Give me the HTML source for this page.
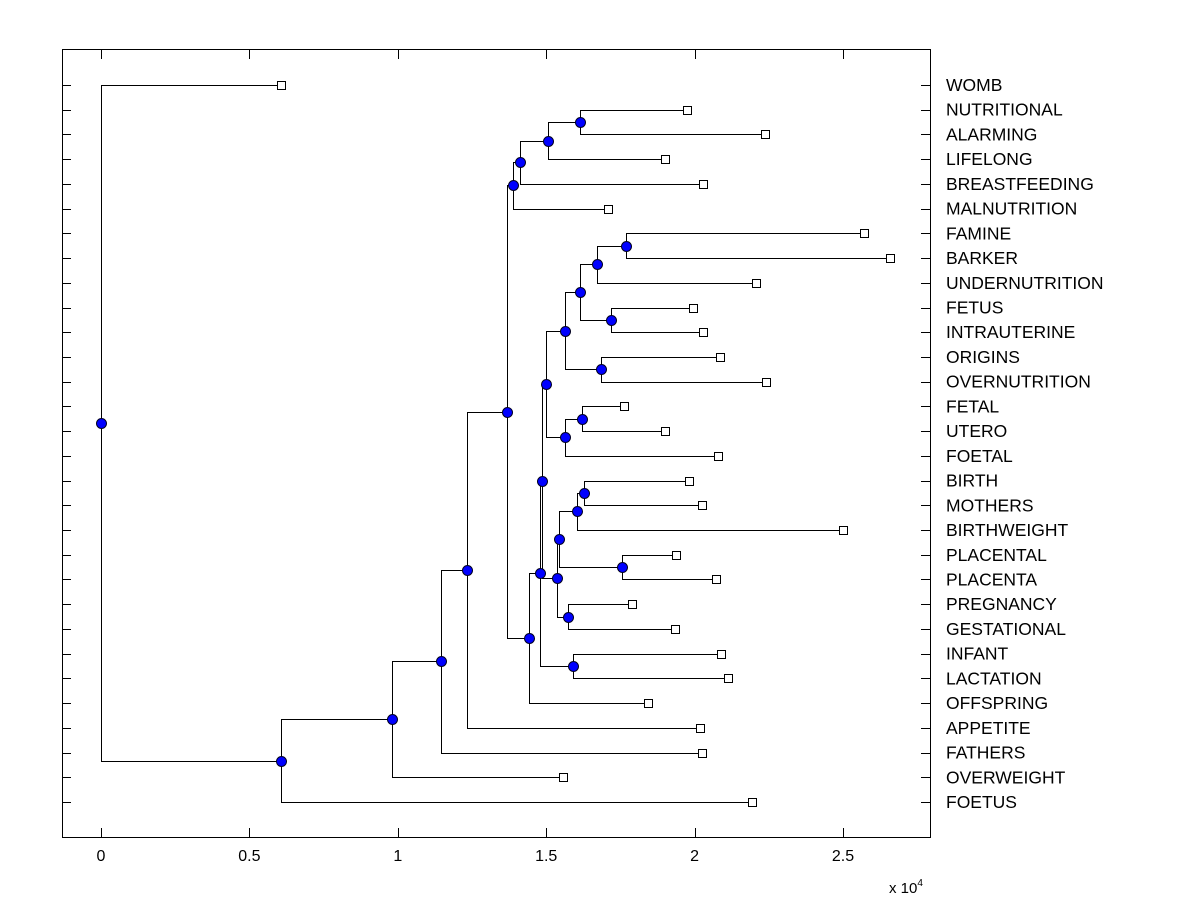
<!DOCTYPE html>
<html><head><meta charset="utf-8"><style>
html,body{margin:0;padding:0;background:#fff;}
svg{display:block;font-family:"Liberation Sans",Arial,sans-serif;}
</style></head><body>
<svg id="chart" width="1200" height="900" viewBox="0 0 1200 900" xmlns="http://www.w3.org/2000/svg">
<rect x="0" y="0" width="1200" height="900" fill="#fff"/>
<g id="ticks"></g>
<g id="links"></g>
<g id="marks"></g>
<g id="labels"></g>
<rect x="62.5" y="49.5" width="868" height="788" fill="none" stroke="#000" stroke-width="1"/>
<text x="889" y="893" font-size="15">x 10<tspan dy="-7" font-size="10">4</tspan></text>
</svg>
<script>
const leafNames = ["WOMB","NUTRITIONAL","ALARMING","LIFELONG","BREASTFEEDING","MALNUTRITION","FAMINE","BARKER","UNDERNUTRITION","FETUS","INTRAUTERINE","ORIGINS","OVERNUTRITION","FETAL","UTERO","FOETAL","BIRTH","MOTHERS","BIRTHWEIGHT","PLACENTAL","PLACENTA","PREGNANCY","GESTATIONAL","INFANT","LACTATION","OFFSPRING","APPETITE","FATHERS","OVERWEIGHT","FOETUS"];
const leafValues = [0.606,1.974,2.237,1.900,2.028,1.708,2.571,2.658,2.207,1.995,2.028,2.086,2.241,1.762,1.900,2.079,1.981,2.025,2.500,1.937,2.072,1.789,1.934,2.089,2.113,1.843,2.018,2.025,1.557,2.193];
const mergeLeft  = [1,3,4,5,6,34,9,35,11,37,13,40,39,16,43,19,44,21,46,42,23,49,51,33,53,54,55,56,0];
const mergeRight = [2,30,31,32,7,8,10,36,12,38,14,15,41,17,18,20,45,22,47,48,24,50,25,52,26,27,28,29,57];
const mergeHeights = [1.614,1.506,1.412,1.388,1.769,1.671,1.718,1.614,1.685,1.563,1.621,1.563,1.499,1.627,1.604,1.755,1.543,1.573,1.536,1.486,1.590,1.479,1.442,1.368,1.233,1.146,0.980,0.606,0.000];
const xTicks = [0,0.5,1,1.5,2,2.5];
const xTickLabels = ["0","0.5","1","1.5","2","2.5"];

const NS = "http://www.w3.org/2000/svg";
const X0 = 101, XS = 296.8, YTOP = 85, YSTEP = (802-85)/29;
const xs = v => X0 + v*XS;
const yLeaf = i => YTOP + i*YSTEP;
function mk(tag, attrs, parent){const e=document.createElementNS(NS,tag);for(const k in attrs)e.setAttribute(k,attrs[k]);parent.appendChild(e);return e;}
const gT=document.getElementById('ticks'),gL=document.getElementById('links'),gM=document.getElementById('marks'),gLab=document.getElementById('labels');

xTicks.forEach((t,i)=>{
  const x=Math.round(xs(t))+0.5;
  const l=mk('line',{x1:x,x2:x,y1:837,y2:828,stroke:'#000'},gT);
  
  
  const l2=mk('line',{x1:x,x2:x,y1:50,y2:59,stroke:'#000'},gT);
  
  
  const tx=mk('text',{x:xs(t),y:861,'font-size':16,'text-anchor':'middle'},gT);
  tx.textContent=xTickLabels[i];
  
  
});
leafNames.forEach((n,i)=>{
  const y=Math.round(yLeaf(i))+0.5;
  const l=mk('line',{x1:62,x2:71,y1:y,y2:y,stroke:'#000'},gT);
  
  
  const l2=mk('line',{x1:921,x2:930,y1:y,y2:y,stroke:'#000'},gT);
  
  
  const t=mk('text',{x:946,y:yLeaf(i)+6,'font-size':17.5},gLab);
  t.textContent=n;
  
  
});

const N=leafNames.length;
const px=[],py=[];
for(let i=0;i<N;i++){px[i]=xs(leafValues[i]);py[i]=yLeaf(i);}
for(let k=0;k<mergeHeights.length;k++){
  const id=N+k,a=mergeLeft[k],b=mergeRight[k];
  px[id]=xs(mergeHeights[k]);py[id]=(py[a]+py[b])/2;
  const x=Math.round(px[id])+0.5;
  const d=`M${px[a]},${Math.round(py[a])+0.5}H${x}V${Math.round(py[b])+0.5}H${px[b]}`;
  const p=mk('path',{d:d,fill:'none',stroke:'#000','stroke-width':1},gL);
  
  
}
for(let i=0;i<N;i++){
  const r=mk('rect',{x:Math.round(px[i])-3.5,y:Math.round(py[i])-3.5,width:8,height:8,fill:'#fff',stroke:'#000'},gM);
  
  
}
for(let k=0;k<mergeHeights.length;k++){
  const id=N+k;
  const c=mk('circle',{cx:Math.round(px[id])+0.5,cy:Math.round(py[id])+0.5,r:5,fill:'#0000ff',stroke:'#000022','stroke-width':1},gM);
  
  
}
</script>
</body></html>
